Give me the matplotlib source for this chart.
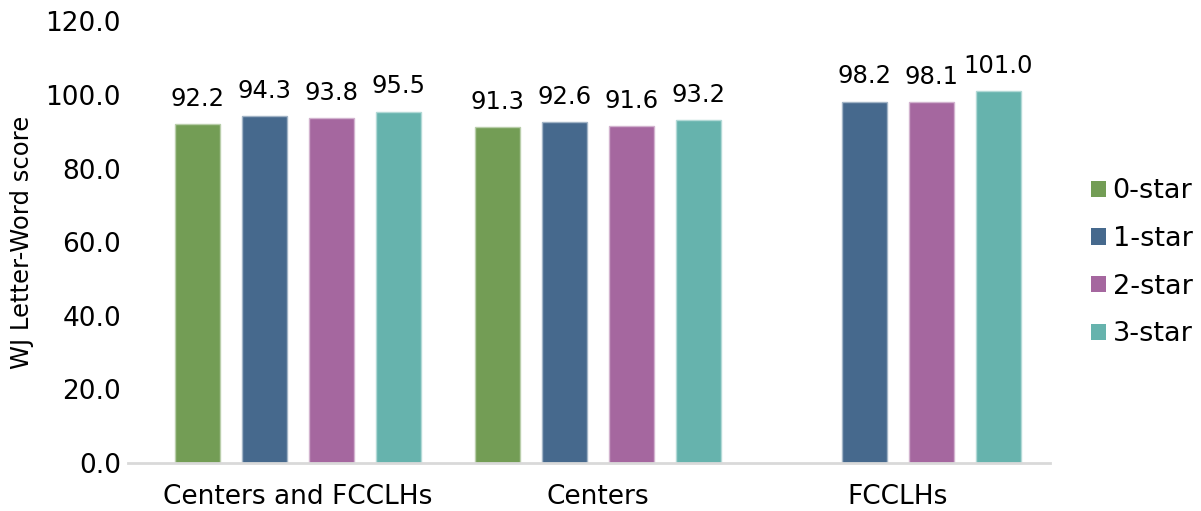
import matplotlib.pyplot as plt
import numpy as np

# Data
groups = ["Centers and FCCLHs", "Centers", "FCCLHs"]
series = ["0-star", "1-star", "2-star", "3-star"]
values = {
    "0-star": [92.2, 91.3, np.nan],
    "1-star": [94.3, 92.6, 98.2],
    "2-star": [93.8, 91.6, 98.1],
    "3-star": [95.5, 93.2, 101.0],
}
colors = ["#739D55", "#46698D", "#A5679F", "#66B3AD"]
edges = ["#B9CEAA", "#A2B4C6", "#D2B3CF", "#B2D9D6"]

plt.rcParams['font.family'] = ['DejaVu Sans']

fig = plt.figure(figsize=(12.01, 5.11), dpi=100)
ax = fig.add_axes([128 / 1201, 1 - 463 / 511, (1050 - 128) / 1201, (463 - 21.4) / 511])

x = np.arange(len(groups))
pitch = 0.2233
width = 0.15
for i, name in enumerate(series):
    offs = (i - 1.5) * pitch
    vals = np.array(values[name], dtype=float)
    for xi, v in zip(x, vals):
        if np.isnan(v):
            continue
        ax.bar(xi + offs, v, width, color=colors[i], edgecolor=edges[i], linewidth=1)
        ax.annotate(f"{v:.1f}", (xi + offs, v), xytext=(0, 9.5), textcoords="offset points",
                    ha="center", va="bottom", fontsize=17.5)
    ax.bar(0, 0, 0, color=colors[i], label=name)

ax.set_ylim(0, 120)
ax.set_xlim(-0.567, 2.507)
ax.set_yticks(np.arange(0, 121, 20))
ax.set_yticklabels([f"{t:.1f}" for t in np.arange(0, 121, 20)], fontsize=19)
ax.set_xticks(x)
ax.set_xticklabels(groups, fontsize=19)
ax.tick_params(axis="both", length=0)
ax.tick_params(axis="x", pad=15)
ax.tick_params(axis="y", pad=5)

for s in ["top", "right", "left"]:
    ax.spines[s].set_visible(False)
ax.spines["bottom"].set_color("#D9D9D9")
ax.spines["bottom"].set_linewidth(2)

ax.set_ylabel("WJ Letter-Word score", fontsize=17.5, va="center")
ax.yaxis.set_label_coords((22 - 128) / 922, 0.5)

ax.legend(loc="center left", bbox_to_anchor=(1.0326, 0.453), frameon=False, fontsize=19.5,
          handlelength=0.55, handleheight=0.55, handletextpad=0.25, labelspacing=0.8,
          borderaxespad=0)

fig.savefig("out.png", dpi=100)
